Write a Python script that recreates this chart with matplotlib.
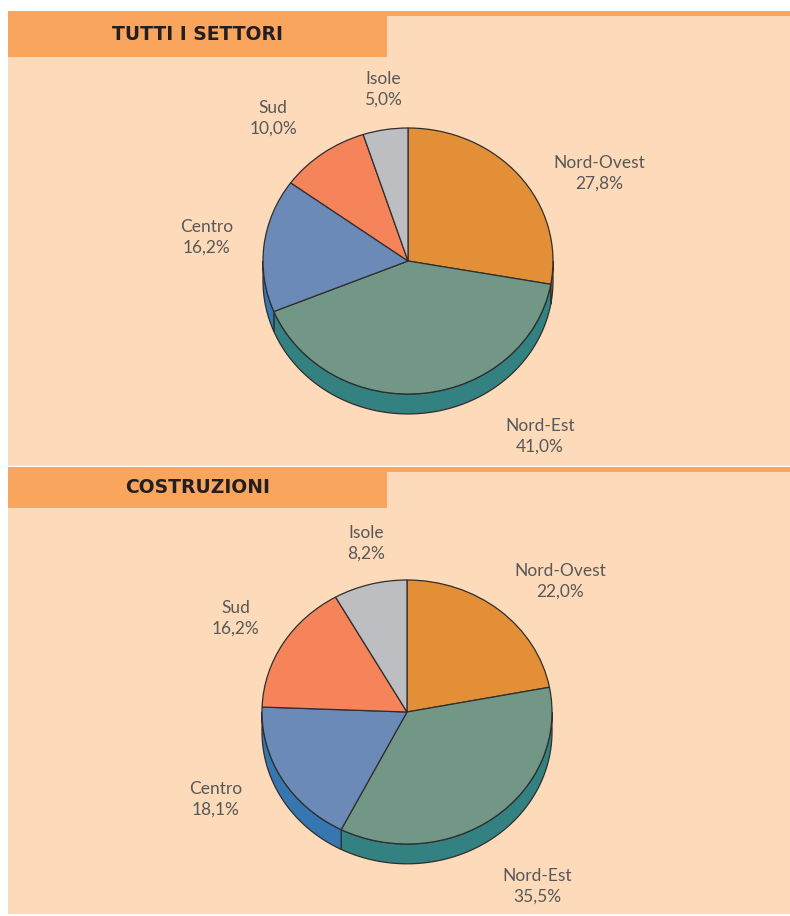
import numpy as np
import matplotlib
matplotlib.use("Agg")
import matplotlib.pyplot as plt
from matplotlib.patches import Rectangle, Polygon

# data
regions = ["Nord-Ovest", "Nord-Est", "Centro", "Sud", "Isole"]
tutti = [27.8, 41.0, 16.2, 10.0, 5.0]
costruzioni = [22.0, 35.5, 18.1, 16.2, 8.2]
titles = ["TUTTI I SETTORI", "COSTRUZIONI"]

top_colors = ["#E38F37", "#729787", "#6C8AB8", "#F6845A", "#BDBEC2"]
side_colors = ["#C6772A", "#338180", "#3677B1", "#D96A42", "#9A9BA0"]

# label positions in pie units (x in rx, y in ry), hand placed like the original
label_pos_1 = [(1.32, 0.66), (0.91, -1.32), (-1.39, 0.18), (-0.93, 1.07), (-0.17, 1.29)]
label_pos_2 = [(1.055, 0.99), (0.90, -1.32), (-1.32, -0.66), (-1.18, 0.71), (-0.28, 1.28)]

W, H = 790, 916
BG = "#FDDBBA"
ORANGE = "#F9A55E"
EDGE = "#2E2E2E"

fig = plt.figure(figsize=(W / 100, H / 100), dpi=100)
fig.patch.set_facecolor("white")


def rect_px(x0, y0, x1, y1, color):
    # pixel box (top-left origin) -> figure fraction
    fig.add_artist(Rectangle((x0 / W, 1 - y1 / H), (x1 - x0) / W, (y1 - y0) / H,
                             transform=fig.transFigure, facecolor=color,
                             edgecolor="none", zorder=0))


def panel(top, bottom, tab_h, title):
    rect_px(8, top + 5, W, bottom, BG)
    rect_px(8, top, W, top + 5, ORANGE)
    rect_px(8, top, 387, top + tab_h, ORANGE)
    fig.text(198 / W, 1 - (top + tab_h / 2) / H, title, ha="center", va="center",
             fontsize=13.5, fontweight="bold", family="DejaVu Sans",
             color="#231F20")


def visible_side(t1, t2):
    # parts of [t1, t2] (degrees) facing the viewer (lower half)
    out = []
    for k in (-1, 0, 1):
        a = max(t1, 180 + 360 * k)
        b = min(t2, 360 + 360 * k)
        if b > a:
            out.append((a, b))
    return out


def draw_pie(cx, cy, rx, ry, values, label_pos, depth=0.15):
    ax = fig.add_axes([(cx - 2 * rx) / W, 1 - (cy + 2 * ry) / H, 4 * rx / W, 4 * ry / H])
    wedges, _ = ax.pie(values, colors=top_colors, startangle=90, counterclock=False,
                       wedgeprops=dict(edgecolor=EDGE, linewidth=0.9, zorder=3))
    for w, sc in zip(wedges, side_colors):
        for a, b in visible_side(w.theta1, w.theta2):
            t = np.radians(np.linspace(a, b, 80))
            top_arc = np.column_stack([np.cos(t), np.sin(t)])
            bot_arc = np.column_stack([np.cos(t[::-1]), np.sin(t[::-1]) - depth])
            ax.add_patch(Polygon(np.vstack([top_arc, bot_arc]), closed=True,
                                 facecolor=sc, edgecolor=EDGE, linewidth=0.9, zorder=2))
    for name, v, (lx, ly) in zip(regions, values, label_pos):
        ax.text(lx, ly, f"{name}\n{v:.1f}%".replace(".", ","), ha="center", va="center",
                fontsize=12.5, fontweight="normal", family=["Lato", "DejaVu Sans"],
                color="#585858", linespacing=1.35)
    ax.set_aspect("auto")
    ax.set_xlim(-2, 2)
    ax.set_ylim(-2, 2)
    ax.axis("off")


panel(11, 466, 46, titles[0])
panel(467, 914, 41, titles[1])
draw_pie(408, 261, 145, 133, tutti, label_pos_1)
draw_pie(407, 712, 145, 132, costruzioni, label_pos_2)

fig.savefig("out.png", dpi=100, facecolor=fig.get_facecolor())
